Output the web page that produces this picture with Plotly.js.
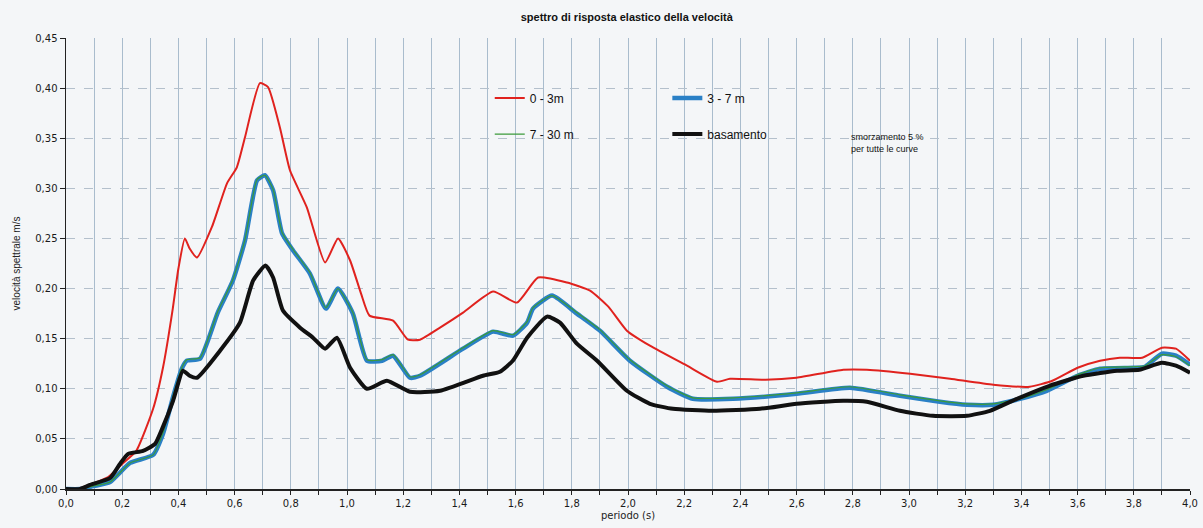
<!DOCTYPE html>
<html>
<head>
<meta charset="utf-8">
<script src="https://cdn.plot.ly/plotly-3.0.1.min.js"></script>
<style>html,body{margin:0;padding:0;background:#f4f6f8;}#chart{width:1203px;height:528px;}</style>
</head>
<body>
<div id="chart"></div>
<script>
// Series names
const seriesNames = ["0 - 3m", "3 - 7 m", "7 - 30 m", "basamento"];

// 0 - 3m (red)
const xRed = [0, 0.05, 0.1, 0.15, 0.2, 0.25, 0.31, 0.345, 0.38, 0.4, 0.423, 0.44, 0.466, 0.52, 0.573, 0.608, 0.637, 0.69, 0.719, 0.761, 0.797, 0.857, 0.922, 0.968, 1.011, 1.05, 1.08, 1.164, 1.217, 1.26, 1.331, 1.413, 1.52, 1.605, 1.68, 1.783, 1.865, 1.93, 1.996, 2.078, 2.21, 2.317, 2.363, 2.49, 2.6, 2.766, 2.85, 3.004, 3.146, 3.3, 3.43, 3.51, 3.6, 3.68, 3.75, 3.83, 3.9, 3.95, 4.0];
const yRed = [0, 0.001, 0.006, 0.012, 0.025, 0.038, 0.080, 0.121, 0.180, 0.220, 0.250, 0.240, 0.231, 0.262, 0.305, 0.321, 0.351, 0.405, 0.401, 0.361, 0.318, 0.281, 0.226, 0.250, 0.228, 0.195, 0.173, 0.168, 0.149, 0.149, 0.161, 0.176, 0.197, 0.186, 0.211, 0.206, 0.198, 0.182, 0.158, 0.143, 0.123, 0.107, 0.110, 0.109, 0.111, 0.119, 0.119, 0.115, 0.110, 0.104, 0.102, 0.108, 0.121, 0.128, 0.131, 0.131, 0.141, 0.140, 0.128];

// 3 - 7 m (blue)
const xBlue = [0, 0.05, 0.1, 0.157, 0.228, 0.31, 0.345, 0.381, 0.412, 0.43, 0.477, 0.54, 0.594, 0.637, 0.68, 0.708, 0.737, 0.769, 0.808, 0.868, 0.925, 0.968, 1.021, 1.071, 1.125, 1.164, 1.224, 1.26, 1.413, 1.52, 1.591, 1.641, 1.662, 1.73, 1.818, 1.9, 2.007, 2.139, 2.231, 2.374, 2.6, 2.79, 2.968, 3.11, 3.206, 3.3, 3.395, 3.49, 3.6, 3.68, 3.8, 3.84, 3.9, 3.95, 4.0];
const yBlue = [0, 0, 0.003, 0.007, 0.026, 0.034, 0.055, 0.092, 0.120, 0.128, 0.130, 0.176, 0.208, 0.248, 0.308, 0.313, 0.298, 0.255, 0.238, 0.215, 0.180, 0.200, 0.175, 0.128, 0.128, 0.133, 0.111, 0.113, 0.140, 0.157, 0.153, 0.166, 0.180, 0.193, 0.175, 0.158, 0.128, 0.102, 0.090, 0.090, 0.095, 0.101, 0.093, 0.087, 0.084, 0.084, 0.090, 0.098, 0.113, 0.120, 0.121, 0.122, 0.135, 0.133, 0.124];

// 7 - 30 m (green)
const xGreen = [0, 0.05, 0.1, 0.157, 0.228, 0.31, 0.345, 0.381, 0.412, 0.43, 0.477, 0.54, 0.594, 0.637, 0.68, 0.708, 0.737, 0.769, 0.808, 0.868, 0.925, 0.968, 1.021, 1.071, 1.125, 1.164, 1.224, 1.26, 1.413, 1.52, 1.591, 1.641, 1.662, 1.73, 1.818, 1.9, 2.007, 2.139, 2.231, 2.374, 2.6, 2.79, 2.968, 3.11, 3.206, 3.3, 3.395, 3.49, 3.6, 3.68, 3.8, 3.84, 3.9, 3.95, 4.0];
const yGreen = [0, 0, 0.003, 0.007, 0.026, 0.034, 0.056, 0.093, 0.121, 0.129, 0.131, 0.177, 0.209, 0.249, 0.309, 0.313, 0.299, 0.256, 0.239, 0.216, 0.181, 0.200, 0.176, 0.129, 0.129, 0.134, 0.112, 0.114, 0.141, 0.158, 0.154, 0.167, 0.181, 0.193, 0.176, 0.159, 0.129, 0.103, 0.091, 0.091, 0.096, 0.102, 0.094, 0.088, 0.085, 0.085, 0.090, 0.099, 0.114, 0.121, 0.122, 0.123, 0.134, 0.132, 0.123];

// basamento (black)
const xBlack = [0, 0.05, 0.085, 0.157, 0.192, 0.221, 0.274, 0.317, 0.345, 0.381, 0.416, 0.44, 0.466, 0.548, 0.619, 0.666, 0.71, 0.737, 0.772, 0.833, 0.879, 0.922, 0.964, 1.011, 1.071, 1.142, 1.224, 1.331, 1.484, 1.544, 1.59, 1.641, 1.712, 1.758, 1.818, 1.89, 1.996, 2.078, 2.16, 2.3, 2.47, 2.6, 2.766, 2.85, 2.968, 3.085, 3.206, 3.288, 3.384, 3.5, 3.62, 3.74, 3.82, 3.9, 3.95, 4.0];
const yBlack = [0, 0, 0.004, 0.011, 0.025, 0.035, 0.038, 0.045, 0.062, 0.088, 0.118, 0.113, 0.111, 0.138, 0.166, 0.208, 0.223, 0.211, 0.178, 0.161, 0.151, 0.140, 0.151, 0.121, 0.100, 0.108, 0.097, 0.098, 0.113, 0.117, 0.128, 0.151, 0.172, 0.166, 0.145, 0.128, 0.098, 0.085, 0.080, 0.078, 0.080, 0.085, 0.088, 0.087, 0.078, 0.073, 0.073, 0.078, 0.090, 0.103, 0.113, 0.118, 0.119, 0.126, 0.123, 0.116];

const titleText = "spettro di risposta elastico della velocità";
const xTitle = "periodo (s)";
const yTitle = "velocità spettrale m/s";
const noteText = "smorzamento 5 %<br>per tutte le curve";

const sm = 0.5;
const traces = [
  {x: xRed, y: yRed, name: seriesNames[0], type: "scatter", mode: "lines", line: {color: "#e0221e", width: 2, shape: "spline", smoothing: sm}, legend: "legend"},
  {x: xBlue, y: yBlue, name: seriesNames[1], type: "scatter", mode: "lines", line: {color: "#2a80c6", width: 4.5, shape: "spline", smoothing: sm}, legend: "legend2"},
  {x: xGreen, y: yGreen, name: seriesNames[2], type: "scatter", mode: "lines", line: {color: "#3b9a3a", width: 1.2, shape: "spline", smoothing: sm}, legend: "legend3"},
  {x: xBlack, y: yBlack, name: seriesNames[3], type: "scatter", mode: "lines", line: {color: "#111111", width: 4, shape: "spline", smoothing: sm}, legend: "legend4"}
];

const legFont = {family: "Liberation Sans, Arial, sans-serif", size: 12, color: "#111"};
function leg(x, y) {
  return {x: x, y: y, xanchor: "left", yanchor: "middle", bgcolor: "rgba(0,0,0,0)", borderwidth: 0, font: legFont, itemwidth: 30, tracegroupgap: 0};
}

const layout = {
  width: 1203, height: 528,
  paper_bgcolor: "#f4f6f8", plot_bgcolor: "#f4f6f8",
  separators: ", ",
  margin: {l: 66, r: 13, t: 38, b: 39},
  showlegend: true,
  title: {text: "<b>" + titleText + "</b>", x: 0.521, xanchor: "center", y: 0.968, yanchor: "middle",
          font: {family: "Liberation Sans, Arial, sans-serif", size: 11, color: "#111"}},
  xaxis: {
    range: [0, 4.0], dtick: 0.2, tick0: 0, tickformat: ".1f",
    showgrid: true, gridcolor: "#a9bccd", gridwidth: 1,
    minor: {dtick: 0.1, showgrid: true, gridcolor: "#a9bccd", ticks: "outside", ticklen: 4, tickcolor: "#222"},
    ticks: "outside", ticklen: 4, tickcolor: "#222",
    showline: true, linecolor: "#222", linewidth: 1.5, zeroline: false,
    tickfont: {family: "DejaVu Sans, Verdana, sans-serif", size: 10, color: "#1a1a1a"},
    title: {text: xTitle, standoff: 4, font: {family: "DejaVu Sans, Verdana, sans-serif", size: 10, color: "#222"}}
  },
  yaxis: {
    range: [0, 0.45], dtick: 0.05, tick0: 0, tickformat: ".2f",
    showgrid: true, gridcolor: "#b4c0cc", gridwidth: 1, griddash: "dash",
    ticks: "outside", ticklen: 5, tickcolor: "#222",
    showline: true, linecolor: "#222", linewidth: 1.5, zeroline: false,
    tickfont: {family: "DejaVu Sans, Verdana, sans-serif", size: 10, color: "#1a1a1a"},
    title: {text: yTitle, standoff: 12, font: {family: "Liberation Sans, Arial, sans-serif", size: 10, color: "#222"}}
  },
  legend: leg(0.377, 0.867),
  legend2: leg(0.535, 0.867),
  legend3: leg(0.377, 0.787),
  legend4: leg(0.535, 0.787),
  annotations: [{
    text: noteText, xref: "paper", yref: "paper", x: 0.697, y: 0.795, xanchor: "left", yanchor: "top",
    align: "left", showarrow: false, font: {family: "Liberation Sans, Arial, sans-serif", size: 9, color: "#111"}
  }]
};

Plotly.newPlot("chart", traces, layout, {displayModeBar: false, staticPlot: true});
</script>
</body>
</html>
